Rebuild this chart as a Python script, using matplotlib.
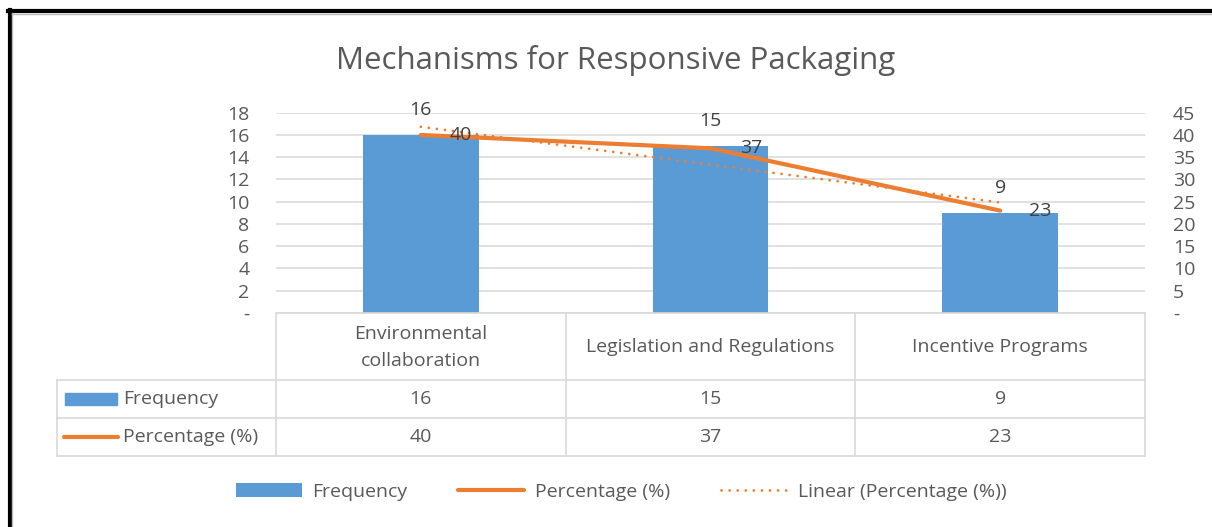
import numpy as np
import matplotlib
matplotlib.use("Agg")
from matplotlib import pyplot as plt
from matplotlib.ticker import FuncFormatter

plt.rcParams['font.family'] = ['Open Sans', 'DejaVu Sans']

categories = ["Environmental\ncollaboration", "Legislation and Regulations", "Incentive Programs"]
frequency = [16, 15, 9]
percentage = [40, 37, 23]
series_names = ["Frequency", "Percentage (%)", "Linear (Percentage (%))"]

blue = "#5B9BD5"
orange = "#ED7D31"
txt = "#595959"
grid = "#D9D9D9"

W, H = 1212, 527
fig = plt.figure(figsize=(W / 100, H / 100), dpi=100)

# plot area in pixels: left 276, right 1145, top 112.7, bottom 313
L, R, T, B = 276, 1145, 112.7, 313
ax = fig.add_axes([L / W, 1 - B / H, (R - L) / W, (B - T) / H])
ax2 = ax.twinx()

x = np.arange(len(categories))
bars = ax.bar(x, frequency, width=0.4, color=blue, zorder=2)
ax.set_xlim(-0.5, len(categories) - 0.5)
ax.set_ylim(0, 18)
ax.set_yticks(np.arange(0, 19, 2))
ax2.set_ylim(0, 45)
ax2.set_yticks(np.arange(0, 46, 5))

dash = lambda v, p: "-" if v == 0 else "%d" % v
ax.yaxis.set_major_formatter(FuncFormatter(dash))
ax2.yaxis.set_major_formatter(FuncFormatter(dash))
ax.tick_params(axis='y', length=0, pad=19, labelsize=14, labelcolor=txt)
ax2.tick_params(axis='y', length=0, pad=20, labelsize=14, labelcolor=txt)
ax.set_xticks([])
ax.grid(axis='y', color=grid, linewidth=1.1, zorder=0)
ax.set_axisbelow(True)
for a in (ax, ax2):
    for s in a.spines.values():
        s.set_visible(False)

line, = ax2.plot(x, percentage, color=orange, linewidth=3, solid_capstyle='round', zorder=3)
coef = np.polyfit(x, percentage, 1)
trend, = ax2.plot(x, np.polyval(coef, x), color=orange, linewidth=2,
                  linestyle=(0, (0.01, 2.9)), dash_capstyle='round', zorder=3)

for xi, v in zip(x, frequency):
    ax.annotate(str(v), (xi, v), xytext=(0, 18), textcoords='offset points',
                ha='center', va='center', fontsize=14, color="#404040")
for xi, v in zip(x, percentage):
    ax2.annotate(str(v), (xi, v), xytext=(29, 0), textcoords='offset points',
                 ha='center', va='center', fontsize=14, color="#404040")

fig.text(616 / W, 1 - 60 / H, "Mechanisms for Responsive Packaging", fontsize=22.5,
         color=txt, ha='center', va='center')

# data table drawn on an overlay in pixel units
ov = fig.add_axes([0, 0, 1, 1])
ov.set_xlim(0, W)
ov.set_ylim(H, 0)
ov.axis('off')
ov.patch.set_alpha(0)

cols = [L + (R - L) * i / 3 for i in range(4)]
rows = [B, 380, 418, 456]
tl = dict(color=grid, linewidth=1.2)
ov.plot([L, R], [B, B], **tl)
for yy in rows[1:]:
    ov.plot([57, R], [yy, yy], **tl)
for cx in cols:
    ov.plot([cx, cx], [B, rows[-1]], **tl)
ov.plot([57, 57], [rows[1], rows[-1]], **tl)

for i, c in enumerate(categories):
    cx = (cols[i] + cols[i + 1]) / 2
    ov.text(cx, (rows[0] + rows[1]) / 2 + 1, c, ha='center', va='center', fontsize=14,
            color=txt, linespacing=1.65)
    ov.text(cx, (rows[1] + rows[2]) / 2, str(frequency[i]), ha='center', va='center',
            fontsize=14, color=txt)
    ov.text(cx, (rows[2] + rows[3]) / 2, str(percentage[i]), ha='center', va='center',
            fontsize=14, color=txt)

ym1 = (rows[1] + rows[2]) / 2
ym2 = (rows[2] + rows[3]) / 2
ov.add_patch(plt.Rectangle((65, ym1 - 6), 52, 12, color=blue))
ov.plot([64, 118], [ym2, ym2], color=orange, linewidth=3, solid_capstyle='round')
ov.text(123, ym1, series_names[0], ha='left', va='center', fontsize=14, color=txt)
ov.text(123, ym2, series_names[1], ha='left', va='center', fontsize=14, color=txt)

# frame
ov.plot([8, W], [11, 11], color='black', linewidth=3)
ov.plot([9.5, 9.5], [10, H], color='black', linewidth=3)
ov.plot([12, W], [13.5, 13.5], color='#BBBBBB', linewidth=1)
ov.plot([12, 12], [13, H], color='#BBBBBB', linewidth=1)

bars.set_label(series_names[0])
line.set_label(series_names[1])
trend.set_label(series_names[2])
leg = fig.legend(handles=[bars, line, trend], loc='center', ncol=3, frameon=False,
                 bbox_to_anchor=(621 / W, 1 - 492 / H), fontsize=14, handlelength=3.4,
                 handleheight=0.75, columnspacing=2.6, handletextpad=0.55)
for t in leg.get_texts():
    t.set_color(txt)

fig.savefig("out.png", dpi=100)
